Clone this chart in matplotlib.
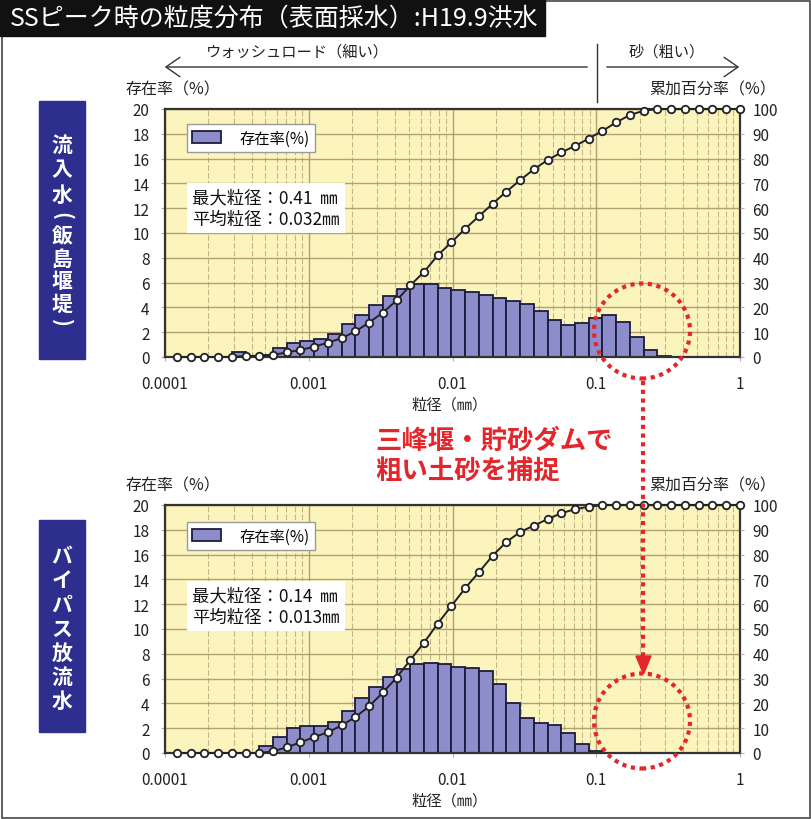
import numpy as np
import matplotlib
matplotlib.use("Agg")
import matplotlib.pyplot as plt
from matplotlib.patches import Rectangle, Ellipse, Polygon, FancyArrowPatch
from matplotlib.lines import Line2D
from matplotlib.ticker import LogLocator, NullFormatter, FixedLocator

plt.rcParams['font.family'] = ['Noto Sans CJK JP', 'DejaVu Sans']

W, H = 811, 820

# particle-size classes (mm)
diameters = [
    0.0001211, 0.0001508, 0.0001879, 0.0002342, 0.0002917, 0.0003634,
    0.0004529, 0.0005642, 0.0007031, 0.0008760, 0.001091, 0.001360,
    0.001694, 0.002111, 0.002630, 0.003277, 0.004083, 0.005087,
    0.006339, 0.007898, 0.009840, 0.01226, 0.01528, 0.01904,
    0.02371, 0.02954, 0.03681, 0.04586, 0.05715, 0.07120,
    0.08872, 0.1105, 0.1377, 0.1716, 0.2138, 0.2664,
    0.3319, 0.4135, 0.5152, 0.6420, 0.7998, 1.0,
]

# 流入水（飯島堰堤）: frequency per class (%) and cumulative passing (%)
inflow_freq = [
    0, 0, 0, 0, 0.4, 0.1, 0.2, 0.7, 1.15, 1.3,
    1.45, 1.85, 2.65, 3.4, 4.2, 4.9, 5.5, 5.85, 5.85, 5.6,
    5.37, 5.24, 5.02, 4.75, 4.48, 4.24, 3.72, 3.0, 2.59, 2.73,
    3.13, 3.4, 2.81, 1.65, 0.57, 0.08, 0.02, 0, 0, 0,
    0,
]
inflow_cum = [
    0, 0, 0, 0, 0, 0.4, 0.5, 0.8, 1.9, 2.8,
    4.2, 5.8, 7.6, 10.3, 13.9, 17.9, 22.8, 28.9, 34.3, 41.0,
    46.3, 51.7, 56.8, 61.8, 66.7, 71.3, 75.7, 79.4, 82.5, 85.1,
    88.1, 91.2, 94.6, 97.6, 99.3, 100, 100, 100, 100, 100,
    100, 100,
]

# バイパス放流水
bypass_freq = [
    0, 0, 0, 0, 0, 0, 0.6, 1.33, 2.0, 2.2,
    2.2, 2.53, 3.39, 4.4, 5.33, 6.13, 6.8, 7.2, 7.28, 7.15,
    6.93, 6.85, 6.6, 5.55, 4.0, 2.8, 2.4, 2.27, 1.6, 0.72,
    0.13, 0.02, 0, 0, 0, 0, 0, 0, 0, 0,
    0,
]
bypass_cum = [
    0, 0, 0, 0, 0, 0, 0, 0.7, 2.3, 4.3,
    6.4, 8.4, 11.1, 14.5, 18.8, 24.4, 30.4, 37.5, 44.5, 52.2,
    59.3, 66.5, 72.9, 79.6, 85.1, 89.1, 91.7, 94.3, 96.7, 98.3,
    99.3, 100, 100, 100, 100, 100, 100, 100, 100, 100,
    100, 100,
]

x_ticks = [0.0001, 0.001, 0.01, 0.1, 1]
x_tick_labels = ["0.0001", "0.001", "0.01", "0.1", "1"]
left_ticks = list(range(0, 21, 2))
right_ticks = list(range(0, 101, 10))

inflow_stats = "最大粒径：0.41  ㎜\n平均粒径：0.032㎜"
bypass_stats = "最大粒径：0.14  ㎜\n平均粒径：0.013㎜"

BG = '#fcf4bd'
BAR = '#8d8dcc'
BAR_EDGE = '#1c1c3c'
GRID = '#a8926a'
NAVY = '#2e2e8e'
RED = '#e3262b'


def fx(px):
    return px / W


def fy(py):
    return 1 - py / H


fig = plt.figure(figsize=(W / 100, H / 100), dpi=100)
fig.patch.set_facecolor('white')


def panel(top, bottom, freq, cum, stats, stats_y, legend_top):
    ax = fig.add_axes([fx(165), fy(bottom), fx(740) - fx(165), (bottom - top) / H])
    ax.set_facecolor(BG)
    ax.set_xscale('log')
    ax.set_xlim(0.0001, 1)
    ax.set_ylim(0, 20)
    d = np.array(diameters)
    bars = ax.bar(d[:-1], freq, width=np.diff(d), align='edge', color=BAR,
                  edgecolor=BAR_EDGE, linewidth=1.3, zorder=2, label='存在率(%)')
    ax.xaxis.set_major_locator(FixedLocator(x_ticks))
    ax.set_xticklabels(x_tick_labels)
    ax.xaxis.set_minor_locator(LogLocator(base=10, subs=range(2, 10)))
    ax.xaxis.set_minor_formatter(NullFormatter())
    ax.set_yticks(left_ticks)
    ax.grid(which='major', color=GRID, linewidth=1.0, alpha=0.85, zorder=0)
    ax.grid(which='minor', axis='x', color=GRID, linewidth=0.8,
            linestyle=(0, (5, 2)), alpha=0.65, zorder=0)
    ax.set_axisbelow(True)
    ax.tick_params(axis='y', direction='out', length=3, color='#c8a8a8',
                   labelsize=11, pad=8, labelcolor='#222222')
    ax.tick_params(axis='x', which='major', direction='out', length=3,
                   color='#c8a8a8', labelsize=11, pad=10, labelcolor='#222222')
    ax.tick_params(axis='x', which='minor', length=0)
    for s in ax.spines.values():
        s.set_color('#333333')
        s.set_linewidth(1.6)

    ax2 = ax.twinx()
    ax2.set_ylim(0, 100)
    ax2.set_yticks(right_ticks)
    ax2.tick_params(axis='y', direction='out', length=3, color='#c8a8a8',
                    labelsize=11, pad=6, labelcolor='#222222')
    for s in ax2.spines.values():
        s.set_visible(False)
    ax2.plot(diameters, cum, color='#222222', linewidth=1.4, marker='o',
             markersize=5.4, markerfacecolor='white', markeredgecolor='#222222',
             markeredgewidth=1.3, clip_on=False, zorder=4)

    ax.legend(handles=[bars], loc='upper left',
              bbox_to_anchor=(fx(187), fy(legend_top)),
              bbox_transform=fig.transFigure, borderaxespad=0, fontsize=11,
              fancybox=False, framealpha=1, edgecolor='#9a9a9a',
              handlelength=1.9, handleheight=0.9, handletextpad=1.2,
              borderpad=0.35)
    ax.text(fx(192), fy(stats_y), stats, transform=fig.transFigure,
            ha='left', va='center', fontsize=12.5, linespacing=1.3,
            color='#111111', zorder=6,
            bbox=dict(boxstyle='square,pad=0.3', facecolor='white',
                      edgecolor='none'))

    fig.text(fx(450), fy(bottom + 47), '粒径（㎜）', ha='center', va='center',
             fontsize=11, color='#222222')
    fig.text(fx(125), fy(top - 20), '存在率（%）', ha='left', va='center',
             fontsize=11.5, color='#222222')
    fig.text(fx(776), fy(top - 20), '累加百分率（%）', ha='right', va='center',
             fontsize=11.5, color='#222222')
    return ax


panel(110, 358, inflow_freq, inflow_cum, inflow_stats, 209, 125)
panel(506, 754, bypass_freq, bypass_cum, bypass_stats, 607, 523)

# outer frame and title band
fig.add_artist(Rectangle((fx(1.5), fy(818.5)), fx(809.5) - fx(1.5), 817 / H,
                         transform=fig.transFigure, fill=False,
                         edgecolor='#555555', linewidth=1.3))
fig.add_artist(Rectangle((0, fy(37)), fx(545), 37 / H,
                         transform=fig.transFigure, color='#111111'))
fig.text(fx(10), fy(19), 'SSピーク時の粒度分布（表面採水）:H19.9洪水',
         ha='left', va='center', fontsize=18, color='white')

# wash load / sand arrows
fig.text(fx(297), fy(52), 'ウォッシュロード（細い）', ha='center', va='center',
         fontsize=11, color='#222222')
fig.text(fx(667), fy(52), '砂（粗い）', ha='center', va='center',
         fontsize=11, color='#222222')
fig.add_artist(FancyArrowPatch((fx(590), fy(68)), (fx(162), fy(68)),
                               transform=fig.transFigure,
                               arrowstyle='->,head_length=0.5,head_width=0.35',
                               mutation_scale=20, linewidth=1.0, color='#333333'))
fig.add_artist(FancyArrowPatch((fx(604), fy(68)), (fx(742), fy(68)),
                               transform=fig.transFigure,
                               arrowstyle='->,head_length=0.5,head_width=0.35',
                               mutation_scale=20, linewidth=1.0, color='#333333'))
fig.add_artist(Line2D([fx(597), fx(597)], [fy(45), fy(103)],
                      transform=fig.transFigure, color='#333333', linewidth=1.0))

# side labels
fig.add_artist(Rectangle((fx(39), fy(360)), fx(85) - fx(39), (360 - 102) / H,
                         transform=fig.transFigure, color=NAVY))
fig.add_artist(Rectangle((fx(39), fy(733)), fx(85) - fx(39), (733 - 521) / H,
                         transform=fig.transFigure, color=NAVY))
inflow_label = ['流', '入', '水', '(', '飯', '島', '堰', '堤', ')']
inflow_label_y = [145, 170, 195, 216, 237, 259, 282, 304, 323]
for ch, y in zip(inflow_label, inflow_label_y):
    rot = -90 if ch in '()' else 0
    fig.text(fx(62), fy(y), ch, ha='center', va='center', fontsize=15,
             fontweight='bold', color='white', rotation=rot,
             rotation_mode='anchor')
bypass_label = ['バ', 'イ', 'パ', 'ス', '放', '流', '水']
bypass_label_y = [557, 581, 605, 629, 653, 677, 701]
for ch, y in zip(bypass_label, bypass_label_y):
    fig.text(fx(62), fy(y), ch, ha='center', va='center', fontsize=15,
             fontweight='bold', color='white')

# trapped coarse sediment annotation
fig.text(fx(375), fy(441), '三峰堰・貯砂ダムで', ha='left', va='center',
         fontsize=19, fontweight='bold', color=RED)
fig.text(fx(375), fy(472), '粗い土砂を捕捉', ha='left', va='center',
         fontsize=19, fontweight='bold', color=RED)

dots = (0, (1, 1.1))
for cy in (332, 722):
    fig.add_artist(Ellipse((fx(642), fy(cy)), 96 / W, 95 / H,
                           transform=fig.transFigure, fill=False,
                           edgecolor=RED, linewidth=3, linestyle=dots))
fig.add_artist(Line2D([fx(643), fx(643)], [fy(382), fy(660)],
                      transform=fig.transFigure, color=RED, linewidth=3,
                      linestyle=dots))
fig.add_artist(Polygon([(fx(636), fy(657)), (fx(651), fy(657)), (fx(643.5), fy(675))],
                       closed=True, transform=fig.transFigure, color=RED))

fig.savefig('out.png', dpi=100)
